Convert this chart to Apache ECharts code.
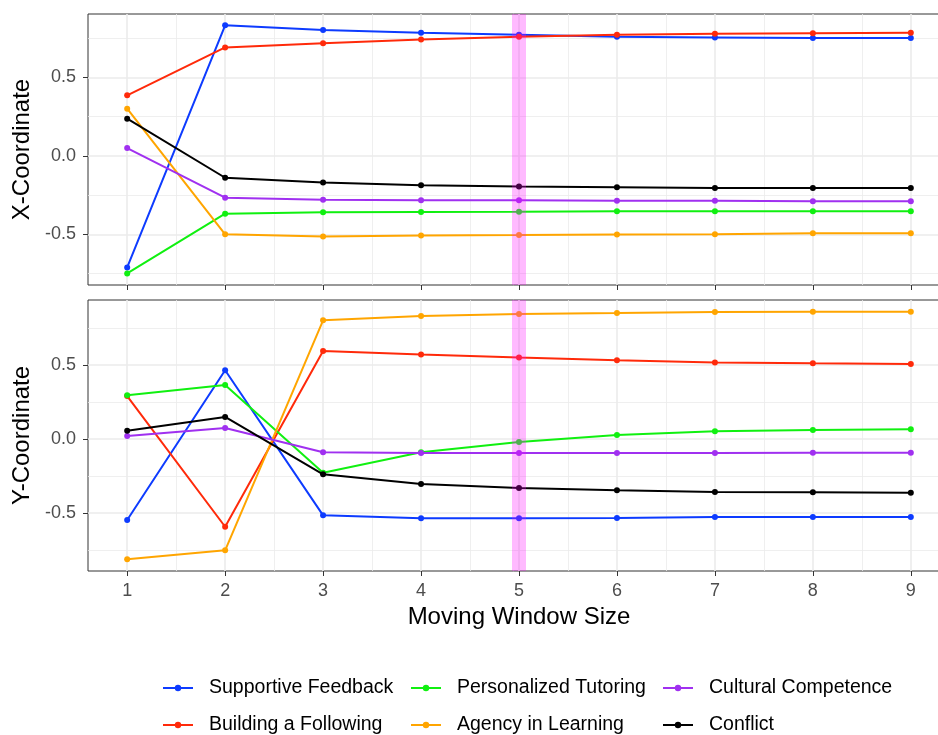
<!DOCTYPE html>
<html>
<head>
<meta charset="utf-8">
<script src="https://cdn.jsdelivr.net/npm/echarts@6/dist/echarts.min.js"></script>
<style>
  html, body { margin: 0; padding: 0; background: #ffffff; }
  #chart { width: 938px; height: 735px; }
</style>
</head>
<body>
<div id="chart"></div>
<script>
// ---------------- DATA ----------------
const windows = [1, 2, 3, 4, 5, 6, 7, 8, 9];
const seriesNames = ['Supportive Feedback', 'Building a Following', 'Personalized Tutoring',
                     'Agency in Learning', 'Cultural Competence', 'Conflict'];

// X-Coordinate panel
const xSupportive   = [-0.711, 0.831, 0.801, 0.784, 0.771, 0.758, 0.754, 0.750, 0.750];
const xBuilding     = [ 0.385, 0.690, 0.716, 0.741, 0.758, 0.771, 0.777, 0.781, 0.784];
const xPersonalized = [-0.749, -0.369, -0.359, -0.358, -0.357, -0.354, -0.354, -0.354, -0.354];
const xAgency       = [ 0.300, -0.500, -0.514, -0.507, -0.505, -0.501, -0.499, -0.494, -0.494];
const xCultural     = [ 0.049, -0.267, -0.280, -0.284, -0.284, -0.286, -0.286, -0.289, -0.289];
const xConflict     = [ 0.236, -0.140, -0.170, -0.187, -0.195, -0.201, -0.206, -0.206, -0.206];

// Y-Coordinate panel
const ySupportive   = [-0.547, 0.464, -0.516, -0.536, -0.536, -0.534, -0.527, -0.527, -0.527];
const yBuilding     = [ 0.290, -0.593, 0.595, 0.570, 0.550, 0.532, 0.516, 0.511, 0.507];
const yPersonalized = [ 0.295, 0.365, -0.228, -0.090, -0.020, 0.027, 0.052, 0.061, 0.065];
const yAgency       = [-0.813, -0.752, 0.802, 0.831, 0.845, 0.851, 0.858, 0.860, 0.860];
const yCultural     = [ 0.020, 0.074, -0.090, -0.095, -0.095, -0.095, -0.095, -0.093, -0.093];
const yConflict     = [ 0.056, 0.149, -0.239, -0.304, -0.331, -0.347, -0.358, -0.360, -0.363];

// Tick values / axis limits
const xTicks = [1, 2, 3, 4, 5, 6, 7, 8, 9];
const xMinorTicks = [1.5, 2.5, 3.5, 4.5, 5.5, 6.5, 7.5, 8.5];
const yTicks = [-0.5, 0, 0.5];
const yMinorTicks = [-0.75, -0.25, 0.25, 0.75];
const xLimits = [0.6, 9.4];
const topLimits = [-0.823, 0.903];
const bottomLimits = [-0.892, 0.939];
const highlightWindow = 5;

// ---------------- STYLE ----------------
const colors = ['#0D3BFF', '#FF2A0A', '#10F010', '#FFA500', '#A030F0', '#000000'];
const FONT = '"Liberation Sans", Arial, Helvetica, sans-serif';
const topData = [xSupportive, xBuilding, xPersonalized, xAgency, xCultural, xConflict];
const bottomData = [ySupportive, yBuilding, yPersonalized, yAgency, yCultural, yConflict];

const chart = echarts.init(document.getElementById('chart'), null, { renderer: 'canvas' });

function xAxisCfg(gridIndex, showLabels) {
  return {
    type: 'value', gridIndex: gridIndex, position: 'bottom',
    min: xLimits[0], max: xLimits[1],
    name: showLabels ? 'Moving Window Size' : '',
    nameLocation: 'middle', nameGap: 34,
    nameTextStyle: { fontFamily: FONT, fontSize: 24, color: '#000' },
    axisLine: { show: false, onZero: false },
    axisTick: { show: true, length: 5, customValues: xTicks, lineStyle: { color: '#333', width: 1 } },
    axisLabel: { show: showLabels, customValues: xTicks, margin: 11, fontFamily: FONT, fontSize: 18, color: '#4D4D4D',
                 formatter: v => String(v) },
    splitLine: { show: false }
  };
}
function yAxisCfg(gridIndex, lim, title) {
  return {
    type: 'value', gridIndex: gridIndex, position: 'left',
    min: lim[0], max: lim[1],
    name: title, nameLocation: 'middle', nameGap: 46, nameRotate: 90,
    nameTextStyle: { fontFamily: FONT, fontSize: 24, color: '#000' },
    axisLine: { show: false, onZero: false },
    axisTick: { show: true, length: 5, customValues: yTicks, lineStyle: { color: '#333', width: 1 } },
    axisLabel: { customValues: yTicks, margin: 12, fontFamily: FONT, fontSize: 18, color: '#4D4D4D',
                 formatter: v => v.toFixed(1) },
    splitLine: { show: false }
  };
}

const series = [];
[topData, bottomData].forEach((panel, gi) => {
  // minor grid lines
  series.push({
    type: 'line', name: '_minor' + gi, xAxisIndex: gi, yAxisIndex: gi, data: [], silent: true,
    markLine: {
      silent: true, symbol: 'none', z: 1, animation: false,
      label: { show: false },
      lineStyle: { color: '#EBEBEB', width: 0.8, type: 'solid' },
      emphasis: { disabled: true },
      data: xMinorTicks.map(v => ({ xAxis: v })).concat(yMinorTicks.map(v => ({ yAxis: v })))
    }
  });
  // major grid lines
  series.push({
    type: 'line', name: '_major' + gi, xAxisIndex: gi, yAxisIndex: gi, data: [], silent: true,
    markLine: {
      silent: true, symbol: 'none', z: 1, animation: false,
      label: { show: false },
      lineStyle: { color: '#EBEBEB', width: 1.6, type: 'solid' },
      emphasis: { disabled: true },
      data: xTicks.map(v => ({ xAxis: v })).concat(yTicks.map(v => ({ yAxis: v })))
    }
  });
  panel.forEach((vals, si) => {
    series.push({
      type: 'line', name: seriesNames[si], xAxisIndex: gi, yAxisIndex: gi,
      data: windows.map((w, i) => [w, vals[i]]),
      symbol: 'circle', symbolSize: 6, z: 2 + si * 0.01,
      itemStyle: { color: colors[si] },
      lineStyle: { color: colors[si], width: 2 },
      emphasis: { disabled: true }
    });
  });
  // highlighted window band
  series.push({
    type: 'line', name: '_band' + gi, xAxisIndex: gi, yAxisIndex: gi, data: [], silent: true,
    markLine: {
      silent: true, symbol: 'none', z: 10, animation: false,
      label: { show: false },
      lineStyle: { color: 'rgba(255,0,255,0.27)', width: 14, type: 'solid' },
      emphasis: { disabled: true },
      data: [{ xAxis: highlightWindow }]
    }
  });
});

// Legend: 2 rows x 3 columns, filled by column (ggplot style)
const legendCols = [162, 410, 662];
const legendRows = [678, 715];
const legends = seriesNames.map((name, i) => ({
  data: [name],
  left: legendCols[Math.floor(i / 2)],
  top: legendRows[i % 2],
  padding: 0,
  itemWidth: 30, itemHeight: 8,
  selectedMode: false,
  textStyle: { fontFamily: FONT, fontSize: 19.5, color: '#000', padding: [0, 0, 0, 11] }
}));

const gridBase = { left: 88, width: 862, height: 271, show: true, borderColor: '#333', borderWidth: 1,
                   backgroundColor: 'transparent', outerBoundsMode: 'none', containLabel: false };

chart.setOption({
  animation: false,
  backgroundColor: '#ffffff',
  grid: [
    Object.assign({}, gridBase, { top: 14 }),
    Object.assign({}, gridBase, { top: 300 })
  ],
  xAxis: [xAxisCfg(0, false), xAxisCfg(1, true)],
  yAxis: [yAxisCfg(0, topLimits, 'X-Coordinate'), yAxisCfg(1, bottomLimits, 'Y-Coordinate')],
  legend: legends,
  series: series
});
</script>
</body>
</html>
